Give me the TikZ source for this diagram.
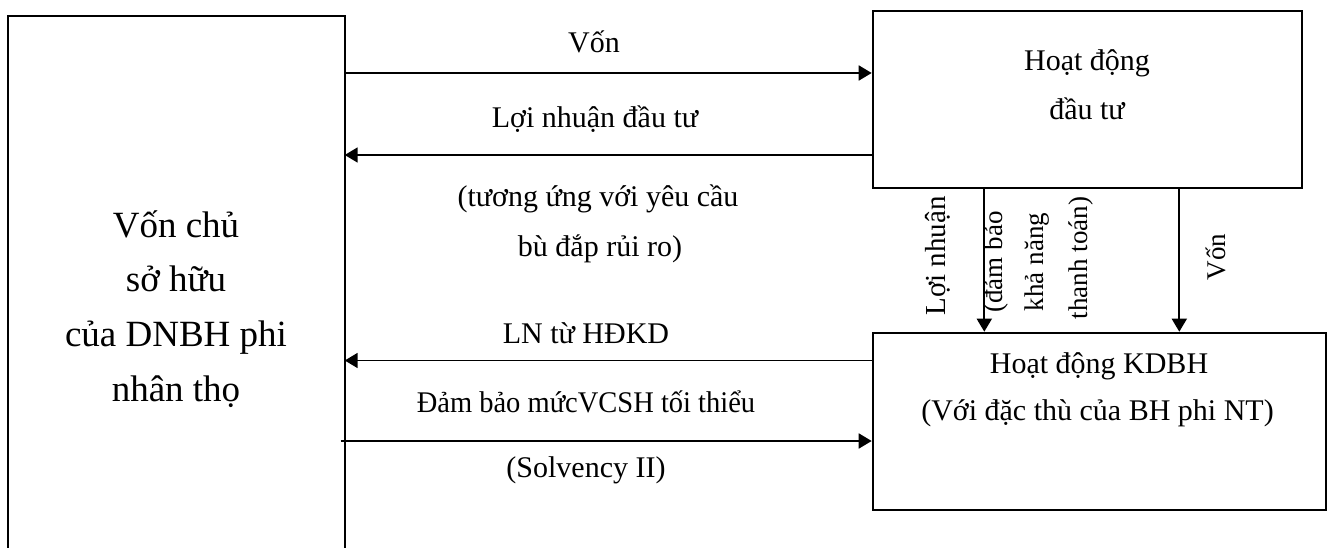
\documentclass[tikz,border=0pt]{standalone}
\usepackage{fontspec}
\setmainfont{Liberation Serif}
\usetikzlibrary{arrows.meta}
\begin{document}
\begin{tikzpicture}[x=1pt,y=-1pt,
  boxline/.style={draw, line width=2pt},
  arr/.style={line width=1.8pt, -{Triangle[length=13pt,width=15pt]}},
  lbl/.style={font=\fontsize{30}{36}\selectfont, inner sep=0pt, anchor=base},
  big/.style={font=\fontsize{37}{44}\selectfont, inner sep=0pt, anchor=base},
  vlbl/.style={font=\fontsize{27}{32}\selectfont, inner sep=0pt, anchor=base, rotate=90}
]
\fill[white] (0,0) rectangle (1333,548);
\useasboundingbox (0,0) rectangle (1333,548);

% boxes
\node[inner sep=0pt, minimum width=336pt, minimum height=532pt] (own) at (176.5,282) {};
\draw[boxline] (own.south west) -- (own.north west) -- (own.north east) -- (own.south east);
\node[boxline, inner sep=0pt, minimum width=429pt, minimum height=177.5pt] (inv) at (1087.2,99.75) {};
\node[boxline, inner sep=0pt, minimum width=453pt, minimum height=177.3pt] (kd) at (1099.2,421.35) {};

% box texts
\node[big] (o1) at (176,237.7) {Vốn chủ};
\node[big] (o2) at (176,291.7) {sở hữu};
\node[big] (o3) at (176,346.7) {của DNBH phi};
\node[big] (o4) at (176,401.7) {nhân thọ};
\node[lbl] (i1) at (1087,71) {Hoạt động};
\node[lbl] (i2) at (1087,120) {đầu tư};
\node[lbl] (k1) at (1099,373) {Hoạt động KDBH};
\node[lbl] (k2) at (1097.5,420) {(Với đặc thù của BH phi NT)};

% horizontal arrows
\draw[arr] (own.east |- 0,73) -- (inv.west |- 0,73);
\draw[arr] (inv.west |- 0,155) -- (own.east |- 0,155);
\draw[arr] (kd.west |- 0,360.5) -- (own.east |- 0,360.5);
\draw[arr] ([xshift=-4pt]own.east |- 0,441) -- (kd.west |- 0,441);

% vertical arrows
\draw[arr] (984.3,0 |- inv.south) -- (984.3,0 |- kd.north);
\draw[arr] (1179.3,0 |- inv.south) -- (1179.3,0 |- kd.north);

% arrow labels
\node[lbl] (a1) at (594,53) {Vốn};
\node[lbl] (a2) at (595,128) {Lợi nhuận đầu tư};
\node[lbl] (a3) at (598,207) {(tương ứng với yêu cầu};
\node[lbl] (a4) at (600,256) {bù đắp rủi ro)};
\node[lbl] (a5) at (586,343) {LN từ HĐKD};
\node[lbl] (a6) at (586,412) {\scalebox{0.95}[1]{Đảm bảo mứcVCSH tối thiểu}};
\node[lbl] (a7) at (586,477) {(Solvency II)};

\node[vlbl, font=\fontsize{29}{34}\selectfont] (v1) at (945,256) {Lợi nhuận};
\node[vlbl] (v2) at (1002,262) {(đảm bảo};
\node[vlbl] (v3) at (1043,262) {khả năng};
\node[vlbl] (v4) at (1087,258) {thanh toán)};
\node[vlbl] (v5) at (1225,257) {Vốn};
\end{tikzpicture}
\end{document}
